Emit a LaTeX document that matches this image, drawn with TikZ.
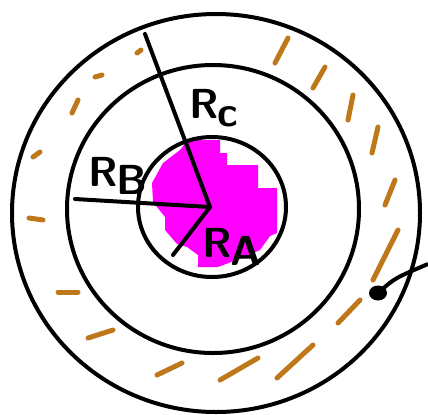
\documentclass[tikz,border=0pt]{standalone}
\usepackage{tikz}
\usetikzlibrary{positioning,calc}
\definecolor{crust}{RGB}{190,120,25}
\definecolor{core}{RGB}{255,0,255}
\newcommand{\radlab}[1]{R\kern-0.5pt\raisebox{-0.4ex}{#1}}

\begin{document}
\begin{tikzpicture}[x=0.5pt, y=-0.5pt,
  ring/.style={draw, line width=2pt},
  radline/.style={draw, line width=2pt, line cap=round, line join=round},
  crustdash/.style={draw=crust, line width=2.5pt, line cap=round},
  lab/.style={font=\fontsize{21}{22}\selectfont\sffamily\bfseries, inner sep=0pt}
]
\useasboundingbox (0,0) rectangle (428,414);

% Centre of the spheres
\coordinate (O) at (210,207);

% Magenta core
\fill[core] (188,140) -- (220,140) -- (220,153) -- (227,153) -- (227,165)
  -- (258,165) -- (258,188) -- (277,188) -- (277,233) -- (270,236)
  -- (260,250) -- (242,258) -- (218,267) -- (198,267) -- (198,255)
  -- (187,247) -- (177,244) -- (165,230) -- (165,217) -- (153,202)
  -- (152,183) -- (163,163) -- (180,150) -- cycle;

% Three shells
\draw[ring] (212,207) ellipse [x radius=74, y radius=70];
\draw[ring] (213,209) ellipse [x radius=146, y radius=144];
\draw[ring] (216,213) ellipse [x radius=204, y radius=199];

% Radii
\coordinate (rc) at (145,34);
\coordinate (rb) at (75,199);
\coordinate (ra) at (173,255);
\draw[radline] (rc) -- (O) -- (rb);
\draw[radline] (O) -- (ra);

% Labels
\node[lab] (lc) at (214,108) {\radlab{c}};
\node[lab] (lb) at (118,176) {\radlab{B}};
\node[lab] (la) at (232,247) {\radlab{A}};

% Brown dashes in the outer shell
\foreach \a/\b in {{137,53}/{141,50}, {95,77}/{102,75}, {72,113}/{78,100},
    {33,157}/{40,152}, {29,218}/{43,220}, {58,292}/{78,292},
    {88,338}/{113,330}, {157,375}/{182,363}, {220,380}/{258,358},
    {277,378}/{313,345}, {338,323}/{360,300}, {373,280}/{398,230},
    {385,205}/{395,180}, {372,153}/{378,127}, {348,120}/{353,95},
    {313,88}/{325,67}, {275,63}/{288,38}}
  \draw[crustdash] (\a) -- (\b);

% Marked point with lead
\fill (378,293) ellipse [x radius=9, y radius=7.5];
\node[inner sep=0pt] (pt) at (378,293) {};
\coordinate (lead) at (428,264);
\draw[line width=2pt] (pt) .. controls (395,278) .. (lead);
\end{tikzpicture}
\end{document}
